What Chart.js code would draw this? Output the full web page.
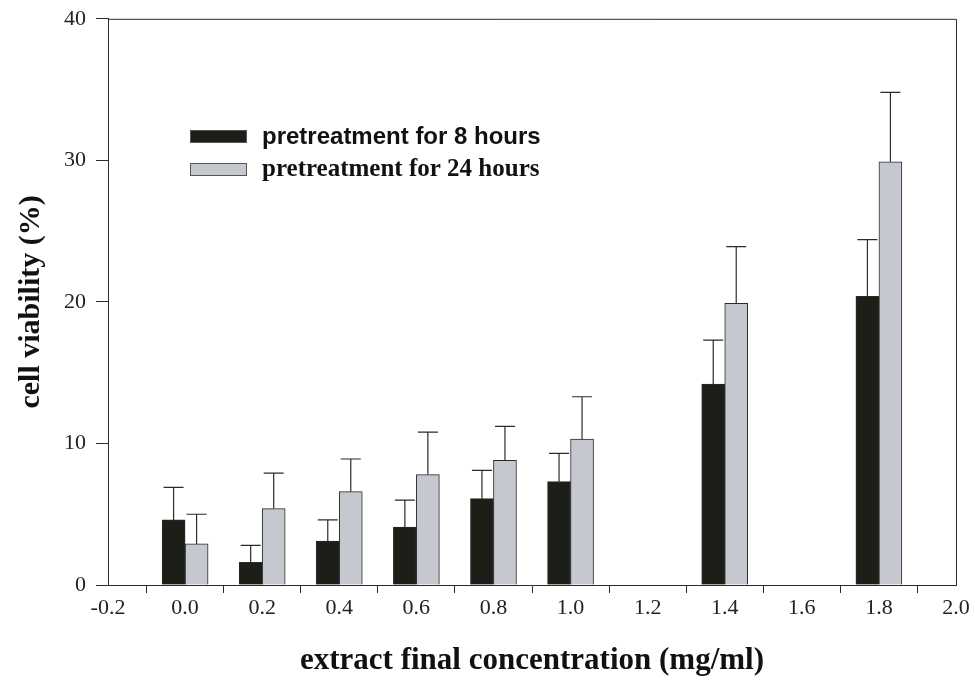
<!DOCTYPE html>
<html>
<head>
<meta charset="utf-8">
<script src="https://cdn.jsdelivr.net/npm/chart.js@4.4.0/dist/chart.umd.min.js"></script>
<style>
    html, body { margin: 0; padding: 0; background: #ffffff; }
    #wrap { width: 975px; height: 682px; }
</style>
</head>
<body>
<div id="wrap"><canvas id="viabilityChart" width="975" height="682"></canvas></div>
<script>
// === CELL VIABILITY CHART ===

// extract final concentration (mg/ml)
const concentrations = [0.0, 0.2, 0.4, 0.6, 0.8, 1.0, 1.4, 1.8];

// cell viability (%) and standard deviation
const viability8h = [4.6, 1.6, 3.1, 4.1, 6.1, 7.3, 14.2, 20.4];
const sd8h = [2.3, 1.2, 1.5, 1.9, 2.0, 2.0, 3.1, 4.0];
const viability24h = [2.9, 5.4, 6.6, 7.8, 8.8, 10.3, 19.9, 29.9];
const sd24h = [2.1, 2.5, 2.3, 3.0, 2.4, 3.0, 4.0, 4.9];

const seriesLabels = ['pretreatment for 8 hours', 'pretreatment for 24 hours'];
const xTicks = [-0.2, 0.0, 0.2, 0.4, 0.6, 0.8, 1.0, 1.2, 1.4, 1.6, 1.8, 2.0];
const yTicks = [0, 10, 20, 30, 40];

const serif = "'Liberation Serif', 'Times New Roman', serif";
const axisColor = '#2b2b2b';

function toPoints(values) {
    return concentrations.map((c, i) => ({ x: c, y: values[i] }));
}

// draws the upper error bar of every bar
const errorBars = {
    id: 'errorBars',
    afterDatasetsDraw(chart) {
        const ctx = chart.ctx;
        const yScale = chart.scales.y;
        chart.data.datasets.forEach((ds, di) => {
            const meta = chart.getDatasetMeta(di);
            meta.data.forEach((bar, i) => {
                const top = yScale.getPixelForValue(ds.data[i].y + ds.sd[i]);
                ctx.save();
                ctx.strokeStyle = axisColor;
                ctx.lineWidth = 1.2;
                ctx.beginPath();
                ctx.moveTo(bar.x, bar.y);
                ctx.lineTo(bar.x, top);
                ctx.moveTo(bar.x - 10, top);
                ctx.lineTo(bar.x + 10, top);
                ctx.stroke();
                ctx.restore();
            });
        });
    }
};

// closes the plot frame on top and right
const frame = {
    id: 'frame',
    beforeDatasetsDraw(chart) {
        const { ctx, chartArea } = chart;
        ctx.save();
        ctx.strokeStyle = axisColor;
        ctx.lineWidth = 1;
        ctx.beginPath();
        ctx.moveTo(chartArea.left, chartArea.top + 0.5);
        ctx.lineTo(chartArea.right + 0.5, chartArea.top + 0.5);
        ctx.lineTo(chartArea.right + 0.5, chartArea.bottom);
        ctx.stroke();
        ctx.restore();
    }
};

// legend inside the plot, upper left
const innerLegend = {
    id: 'innerLegend',
    afterDraw(chart) {
        const ctx = chart.ctx;
        const fonts = [
            "bold 24px 'Liberation Sans', Arial, sans-serif",
            "bold 25px " + serif
        ];
        chart.data.datasets.forEach((ds, i) => {
            const y = 130 + i * 33;
            ctx.save();
            ctx.fillStyle = ds.backgroundColor;
            ctx.fillRect(190, y, 57, 13);
            ctx.strokeStyle = '#555';
            ctx.lineWidth = 1;
            ctx.strokeRect(190.5, y + 0.5, 56, 12);
            ctx.fillStyle = '#111';
            ctx.font = fonts[i];
            ctx.textBaseline = 'middle';
            ctx.fillText(ds.label, 262, y + 7);
            ctx.restore();
        });
    }
};

new Chart(document.getElementById('viabilityChart'), {
    type: 'bar',
    data: {
        datasets: [{
            label: seriesLabels[0],
            data: toPoints(viability8h),
            sd: sd8h,
            backgroundColor: '#1c1f18',
            borderColor: '#2a2a2a',
            borderWidth: 1,
            barThickness: 23
        }, {
            label: seriesLabels[1],
            data: toPoints(viability24h),
            sd: sd24h,
            backgroundColor: '#c6c8cf',
            borderColor: '#2a2a2a',
            borderWidth: 1,
            barThickness: 23
        }]
    },
    options: {
        responsive: false,
        animation: false,
        layout: {
            padding: { top: 10, right: 19, left: 0, bottom: 0 }
        },
        plugins: {
            legend: { display: false },
            tooltip: { enabled: false }
        },
        scales: {
            x: {
                type: 'linear',
                min: -0.2,
                max: 2.0,
                offset: false,
                afterBuildTicks: function(scale) {
                    scale.ticks = xTicks.map(v => ({ value: v }));
                },
                afterFit: function(scale) {
                    scale.height = 97;
                },
                grid: {
                    drawOnChartArea: false,
                    tickLength: 8,
                    color: axisColor
                },
                border: { color: axisColor, width: 1 },
                ticks: {
                    autoSkip: false,
                    maxRotation: 0,
                    padding: 2,
                    color: '#222',
                    font: { family: serif, size: 22 },
                    callback: function(value) {
                        return Math.abs(value) < 1e-9 ? '0.0' : value.toFixed(1);
                    }
                },
                title: {
                    display: true,
                    text: 'extract final concentration (mg/ml)',
                    color: '#111',
                    font: { family: serif, size: 31, weight: 'bold' },
                    padding: { top: 0, bottom: 2 }
                }
            },
            y: {
                min: 0,
                max: 40,
                afterBuildTicks: function(scale) {
                    scale.ticks = yTicks.map(v => ({ value: v }));
                },
                afterFit: function(scale) {
                    scale.width = 108;
                },
                grid: {
                    drawOnChartArea: false,
                    tickLength: 12,
                    color: axisColor
                },
                border: { color: axisColor, width: 1 },
                ticks: {
                    padding: 10,
                    color: '#222',
                    font: { family: serif, size: 22, lineHeight: 0.8 }
                },
                title: {
                    display: true,
                    text: 'cell viability (%)',
                    color: '#111',
                    font: { family: serif, size: 30, weight: 'bold' },
                    padding: { top: 13, bottom: 0 }
                }
            }
        }
    },
    plugins: [frame, errorBars, innerLegend]
});
</script>
</body>
</html>
